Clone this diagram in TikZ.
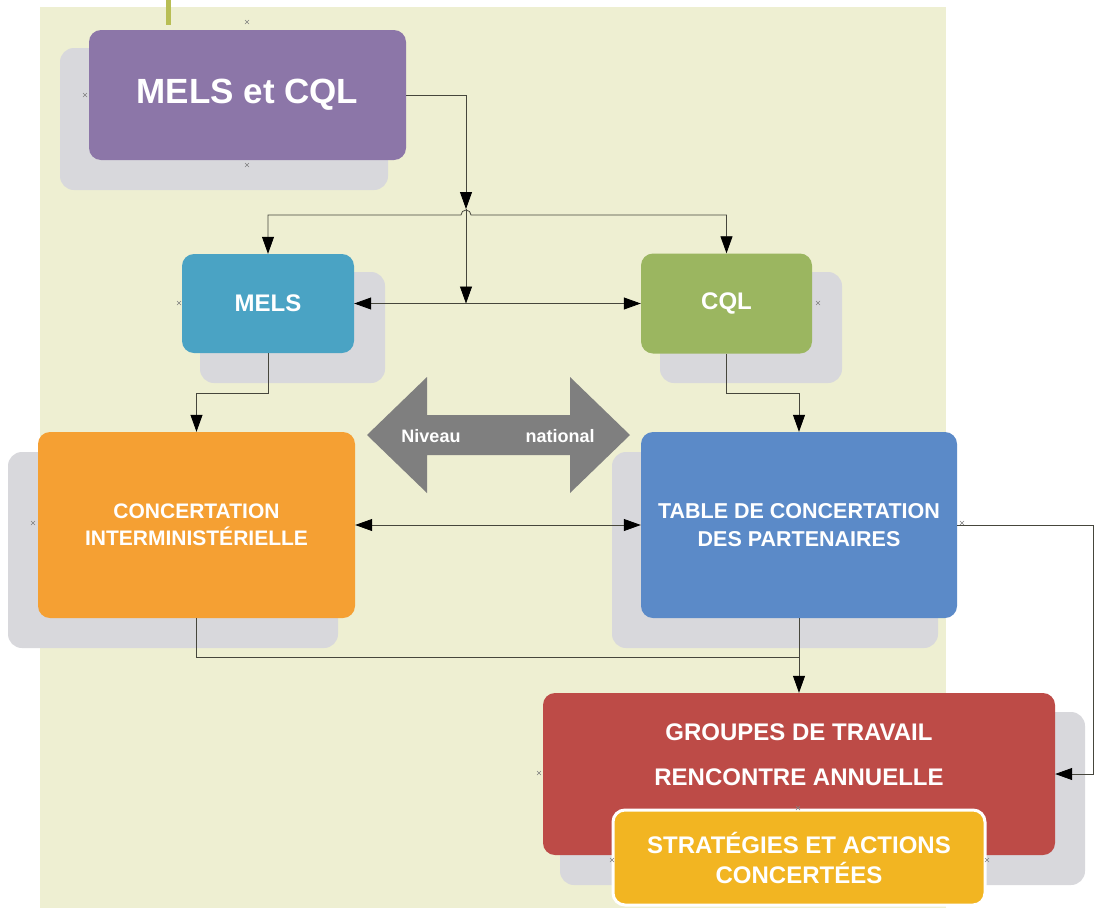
\documentclass[tikz,border=0pt]{standalone}
\usepackage{fontspec}
\setmainfont{Liberation Sans}
\usetikzlibrary{arrows.meta,calc}
\definecolor{bgbeige}{RGB}{238,239,210}
\definecolor{olivetick}{RGB}{184,190,84}
\definecolor{cpurple}{RGB}{140,118,168}
\definecolor{cmels}{RGB}{74,163,196}
\definecolor{ccql}{RGB}{155,182,96}
\definecolor{corange}{RGB}{245,160,51}
\definecolor{ctable}{RGB}{91,138,200}
\definecolor{cred}{RGB}{189,75,71}
\definecolor{cyellow}{RGB}{242,181,34}
\definecolor{cshadow}{RGB}{216,216,220}
\definecolor{carrow}{RGB}{127,127,127}
\definecolor{cline}{RGB}{70,70,60}
\tikzset{
  box/.style={rounded corners=12pt, draw=none, text=white, align=center, inner sep=0pt, font=\bfseries},
  shadowbox/.style={fill=cshadow, rounded corners=14pt},
  conn/.style={draw=cline, line width=0.8pt},
  tipA/.style={-{Triangle[length=17pt,width=12pt,color=black,fill=black]}},
  tipAB/.style={{Triangle[length=17pt,width=12pt,color=black,fill=black]}-{Triangle[length=17pt,width=12pt,color=black,fill=black]}},
  xmk/.pic={\draw[gray,line width=0.5pt] (-2,-2)--(2,2) (-2,2)--(2,-2);}
}
\begin{document}
\begin{tikzpicture}[x=1pt,y=-1pt]
\useasboundingbox (0,0) rectangle (1104,908);
\fill[white] (0,0) rectangle (1104,908);
\fill[bgbeige] (40,7) rectangle (946,908);
\draw[olivetick,line width=5pt] (168,0) -- (168,25);

% shadows
\fill[shadowbox] (60,48) rectangle (388,190);
\fill[shadowbox] (200,272) rectangle (385,383);
\fill[shadowbox] (660,272) rectangle (842,383);
\fill[shadowbox] (8,452) rectangle (338,648);
\fill[shadowbox] (612,452) rectangle (938,648);
\fill[shadowbox] (560,712) rectangle (1085,885);

% big gray double arrow
\fill[carrow] (367,435) -- (427,377) -- (427,415) -- (570,415) -- (570,377) -- (630,435)
  -- (570,493) -- (570,455) -- (427,455) -- (427,493) -- cycle;
\node[text=white,font=\bfseries\fontsize{18}{20}\selectfont] (niv) at (431,436) {Niveau};
\node[text=white,font=\bfseries\fontsize{18}{20}\selectfont] (nat) at (560,436) {national};

% boxes
\node[box, fill=cpurple, minimum width=317pt, minimum height=130pt,
  font=\bfseries\fontsize{35}{40}\selectfont] (mc) at (247.5,95) {MELS et CQL};
\node[box, fill=cmels, minimum width=172pt, minimum height=99pt,
  font=\bfseries\fontsize{24}{28}\selectfont] (mels) at (268,303.5) {MELS};
\node[box, fill=ccql, minimum width=171pt, minimum height=100pt,
  font=\bfseries\fontsize{24}{28}\selectfont] (cql) at (726.5,303.5) {CQL};
\node[box, fill=corange, minimum width=317pt, minimum height=186pt,
  font=\bfseries\fontsize{21}{27.5}\selectfont] (ci) at (196.5,525) {CONCERTATION\\INTERMINISTÉRIELLE};
\node[box, fill=ctable, minimum width=316pt, minimum height=186pt,
  font=\bfseries\fontsize{21.5}{27.5}\selectfont] (tc) at (799,525) {TABLE DE CONCERTATION\\DES PARTENAIRES};
\node[box, fill=cred, minimum width=512pt, minimum height=162pt] (gt) at (799,774) {};
\node[text=white, align=center, font=\bfseries\fontsize{24}{45}\selectfont] (gttext) at (799,755)
  {GROUPES DE TRAVAIL\\RENCONTRE ANNUELLE};
\node[box, fill=cyellow, draw=white, line width=3pt, minimum width=372pt, minimum height=95pt,
  font=\bfseries\fontsize{24}{30}\selectfont] (sa) at (799,857.5) {STRATÉGIES ET ACTIONS\\CONCERTÉES};

% coordinates
\coordinate (hopL) at (461,215);
\coordinate (hopAbove) at (466,209);
\coordinate (j1) at (466,303.5);
\coordinate (j2) at (799,657);
\coordinate (rcorner) at (1093,525);

% connectors
\draw[conn,tipA] (mc.east) -| (hopAbove);
\draw[conn,tipA] (hopAbove) -- (j1);
\draw[conn,tipAB] (mels.north) |- (hopL) arc (180:360:5) -| (cql.north);
\draw[conn,tipAB] (mels.east) -- (cql.west);
\draw[conn,tipA] (mels.south) -- ++(0,40) -| (ci.north);
\draw[conn,tipA] (cql.south) -- ++(0,40) -| (tc.north);
\draw[conn,tipAB] (ci.east) -- (tc.west);
\draw[conn,tipA] (tc.south) -- (gt.north);
\draw[conn] (ci.south) |- (j2);
\draw[conn,tipA] (tc.east) -- (rcorner) |- (gt.east);

% connection point markers
\pic at (247,22) {xmk};
\pic at (247,165) {xmk};
\pic at (85,95) {xmk};
\pic at (179,303) {xmk};
\pic at (818,303) {xmk};
\pic at (33,523) {xmk};
\pic at (962,523) {xmk};
\pic at (539,773) {xmk};
\pic at (612,860) {xmk};
\pic at (987,860) {xmk};
\pic at (798,808) {xmk};
\end{tikzpicture}
\end{document}
